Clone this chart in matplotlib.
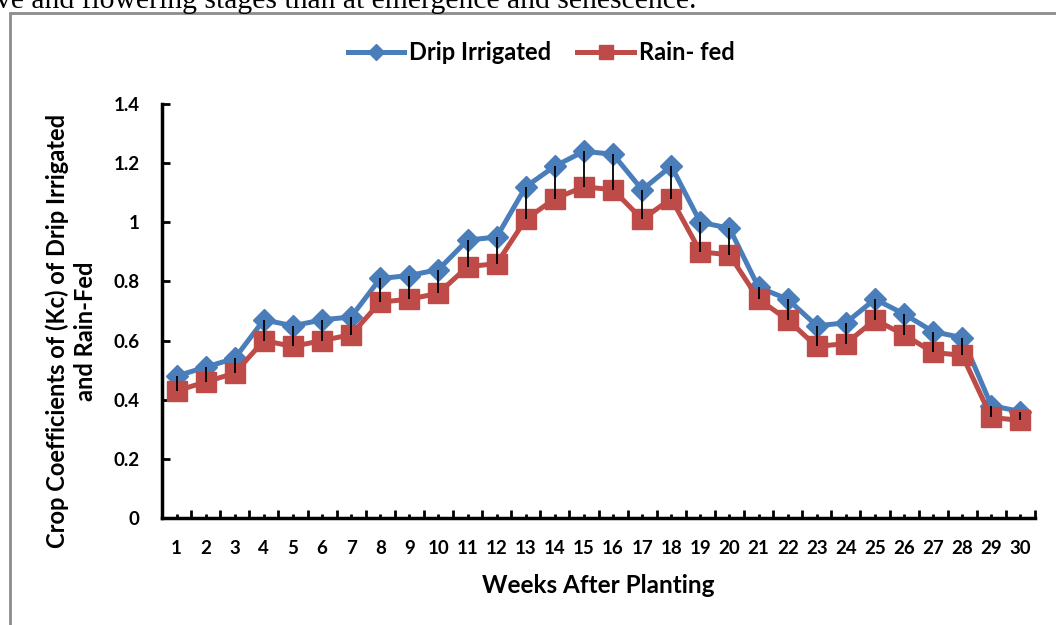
import matplotlib
matplotlib.use('Agg')
import matplotlib.pyplot as plt
from matplotlib.patches import Rectangle
from matplotlib.ticker import MultipleLocator

# valores (Kc por semana)
weeks = list(range(1, 31))
drip = [0.48, 0.51, 0.54, 0.67, 0.65, 0.67, 0.68, 0.81, 0.82, 0.84,
        0.94, 0.95, 1.12, 1.19, 1.24, 1.23, 1.11, 1.19, 1.00, 0.98,
        0.78, 0.74, 0.65, 0.66, 0.74, 0.69, 0.63, 0.61, 0.38, 0.36]
rain = [0.43, 0.46, 0.49, 0.60, 0.58, 0.60, 0.62, 0.73, 0.74, 0.76,
        0.85, 0.86, 1.01, 1.08, 1.12, 1.11, 1.01, 1.08, 0.90, 0.89,
        0.74, 0.67, 0.58, 0.59, 0.67, 0.62, 0.56, 0.55, 0.34, 0.33]
y_ticks = [0, 0.2, 0.4, 0.6, 0.8, 1, 1.2, 1.4]
y_labels = ['0', '0.2', '0.4', '0.6', '0.8', '1', '1.2', '1.4']

blue = '#4A7EBB'
red = '#BE4B48'
font = 'Lato'

fig = plt.figure(figsize=(10.56, 6.25), dpi=100)
W, H = 1056, 625

# marco gris y texto cortado arriba
fig.patches.append(Rectangle((10 / W, -0.1), 1.2, (625 - 13) / H + 0.1,
                             transform=fig.transFigure, fill=False,
                             edgecolor='#8c8c8c', linewidth=2))
fig.text(-0.004, 1 - 8 / H, 've and flowering stages than at emergence and senescence.',
         family='Liberation Serif', fontsize=21.3, va='baseline', ha='left')

ax = fig.add_axes([162 / W, 1 - 518 / H, (1035 - 162) / W, (518 - 104) / H])

ax.vlines(weeks, rain, drip, color='black', linewidth=1.3, zorder=4)
ax.plot(weeks, drip, color=blue, linewidth=3.6, marker='D', markersize=11,
        label='Drip Irrigated', zorder=2)
ax.plot(weeks, rain, color=red, linewidth=3.6, marker='s', markersize=14,
        label='Rain- fed', zorder=3)

ax.set_xlim(0.5, 30.5)
ax.set_ylim(0, 1.4)
ax.set_xticks(weeks)
ax.set_xticklabels([str(w) for w in weeks])
ax.xaxis.set_minor_locator(MultipleLocator(1, offset=0.5))
ax.set_yticks(y_ticks)
ax.set_yticklabels(y_labels)

for s in ['top', 'right']:
    ax.spines[s].set_visible(False)
for s in ['left', 'bottom']:
    ax.spines[s].set_linewidth(2.5)

ax.tick_params(axis='x', which='major', direction='in', width=2, length=3,
               labelsize=13.5, pad=16)
ax.tick_params(axis='x', which='minor', direction='in', width=2, length=6)
ax.tick_params(axis='y', direction='in', width=2, length=6, labelsize=13.5, pad=16)
for lab in ax.get_xticklabels() + ax.get_yticklabels():
    lab.set_fontweight('bold')
    lab.set_family(font)

ax.set_xlabel('Weeks After Planting', fontsize=17.5, fontweight='bold',
              family=font, labelpad=12)
ax.set_ylabel('Crop Coefficients of (Kc) of Drip Irrigated\nand Rain-Fed',
              fontsize=17, fontweight='bold', family=font, va='center',
              linespacing=1.27)
ax.yaxis.set_label_coords(-0.104, 0.452)

leg = fig.legend(loc='center', bbox_to_anchor=(541 / W, 1 - 53 / H), ncol=2,
                 frameon=False, prop={'family': font, 'weight': 'bold', 'size': 17},
                 handlelength=2.4, columnspacing=1.1, handletextpad=0.2,
                 markerscale=0.75)

plt.savefig('out.png', dpi=100)
